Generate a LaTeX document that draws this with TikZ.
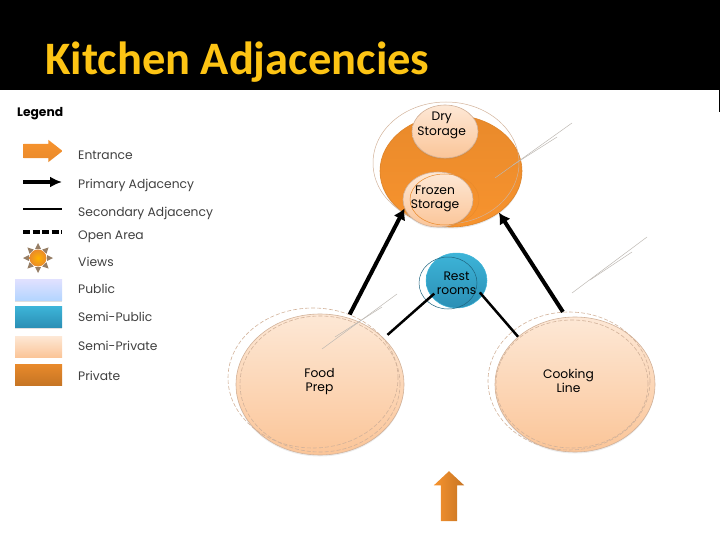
\documentclass[tikz,border=0pt]{standalone}
\usepackage{fontspec}
\setmainfont{Poppins}
\newfontfamily\titlefont{Carlito}
\usepackage{xcolor}
\usetikzlibrary{arrows.meta,shapes.geometric,shapes.arrows,shadows}
\definecolor{titleorange}{HTML}{FDC414}
\definecolor{orangetop}{HTML}{E98A2B}
\definecolor{orangebot}{HTML}{F7932E}
\definecolor{peachtop}{HTML}{FDE8D6}
\definecolor{peachbot}{HTML}{FBC598}
\definecolor{peachline}{HTML}{D2B29A}
\definecolor{bluetop}{HTML}{3DB4D8}
\definecolor{bluebot}{HTML}{2B8FB5}
\definecolor{sketchgray}{HTML}{BDB8B2}

\begin{document}
\begin{tikzpicture}[x=1pt, y=-1pt, every node/.style={align=center, font=\fontsize{12.3}{14.5}\selectfont, inner sep=0pt}]
\tikzset{
  privatezone/.style={shape=ellipse, top color=orangetop, bottom color=orangebot, draw=orangebot!90!black, line width=0.6pt, drop shadow={shadow xshift=0pt, shadow yshift=-1.5pt, opacity=0.2}},
  semizone/.style={shape=ellipse, top color=peachtop, bottom color=peachbot, draw=peachline, line width=0.6pt, drop shadow={shadow xshift=0pt, shadow yshift=-1.5pt, opacity=0.15}},
  publiczone/.style={shape=ellipse, top color=bluetop, bottom color=bluebot, draw=bluetop, line width=0.5pt},
  sketchzone/.style={shape=ellipse, draw=peachline, line width=0.5pt},
  dashzone/.style={shape=ellipse, draw=peachline, line width=0.6pt, dash pattern=on 4pt off 2pt},
  primaryflow/.style={-{Latex[length=11pt,width=13pt]}, draw=black, line width=4pt},
  secondaryflow/.style={draw=black, line width=2.5pt},
  swatch/.style={minimum width=47pt, minimum height=21pt, drop shadow={shadow xshift=0pt, shadow yshift=-1pt, opacity=0.25}},
  legendtext/.style={anchor=base west, text=black!75},
  pencil/.style={draw=sketchgray, line width=0.5pt},
  entrancearrow/.style={shape=single arrow, inner sep=0pt}
}
\useasboundingbox (0,0) rectangle (720,540);
\fill[black] (0,0) rectangle (720,90);
\fill[black] (718.8,90) rectangle (720,112);
\node[anchor=base west, text=titleorange, font=\titlefont\bfseries\fontsize{46.5}{46.5}\selectfont] (title) at (45,75) {Kitchen Adjacencies};
% legend
\node[anchor=base west, font=\bfseries\fontsize{12.3}{14}\selectfont] (legend) at (17,117) {Legend};
\node[entrancearrow, single arrow head extend=4pt, single arrow tip angle=76, top color=orangebot, bottom color=orangetop, minimum height=39pt] (keyentrance) at (38.5,151) {\rule{0pt}{14pt}};
\node[legendtext] (txtentrance) at (78,160) {Entrance};
\coordinate (primarya) at (23,182);
\coordinate (primaryb) at (62,182);
\draw[primaryflow, {-Latex[length=12pt,width=11pt]}] (primarya) -- (primaryb);
\node[legendtext] (txtprimary) at (78,188.7) {Primary Adjacency};
\coordinate (seconda) at (23,209);
\coordinate (secondb) at (62,209);
\draw[draw=black, line width=1.5pt] (seconda) -- (secondb);
\node[legendtext] (txtsecond) at (78,216.7) {Secondary Adjacency};
\coordinate (opena) at (23,232);
\coordinate (openb) at (62,232);
\draw[draw=black, line width=3pt, dash pattern=on 7pt off 2.5pt] (opena) -- (openb);
\node[legendtext] (txtopen) at (78,240) {Open Area};
% sun
\foreach \a in {0,45,...,315} {
  \fill[black!45!brown!70!white, rotate around={\a:(38,258)}] (47,255) -- (53,258) -- (47,261) -- cycle;
}
\node[shape=circle, minimum size=17pt, inner color=orange!60!yellow, outer color=orangetop] (keysun) at (38,258) {};
\node[legendtext] (txtviews) at (78,266.7) {Views};
\node[swatch, top color=blue!12, bottom color=blue!55!cyan!30] (keypublic) at (38.5,290) {};
\node[legendtext] (txtpublic) at (78,293) {Public};
\node[swatch, top color=bluetop, bottom color=bluebot] (keysemipublic) at (38.5,317) {};
\node[legendtext] (txtsemipublic) at (78,321.7) {Semi-Public};
\node[swatch, top color=peachtop, bottom color=peachbot] (keysemiprivate) at (38.5,346.5) {};
\node[legendtext] (txtsemiprivate) at (78,350) {Semi-Private};
\node[swatch, top color=orangetop, bottom color=orangetop!85!black] (keyprivate) at (38.5,374.5) {};
\node[legendtext] (txtprivate) at (78,380) {Private};
% zones
\node[privatezone, minimum width=142pt, minimum height=112pt] (storage) at (451,171) {};
\node[sketchzone, minimum width=146pt, minimum height=122pt] (storageline) at (446,163) {};
\node[semizone, minimum width=66pt, minimum height=53pt] (drystorage) at (445,131.5) {};
\node (drytxt) at (441.7,125.5) {Dry\\Storage};
\node[semizone, minimum width=70pt, minimum height=55pt] (frozen) at (438,199.5) {};
\node[sketchzone, draw=orangetop, minimum width=69pt, minimum height=51pt] (frozenline) at (444.5,199.5) {};
\node (frozentxt) at (435,199) {Frozen\\Storage};
\node[publiczone, minimum width=61pt, minimum height=55pt] (restrooms) at (456.5,280.5) {};
\node[sketchzone, draw=bluebot!70!black, minimum width=58pt, minimum height=52pt] (restline) at (448,283) {};
\node (resttxt) at (456.5,283.5) {Rest\\rooms};
\node[semizone, minimum width=168pt, minimum height=141pt] (foodprep) at (320,384.5) {};
\node[dashzone, minimum width=170pt, minimum height=140pt] (foodline) at (313,378) {};
\node[dashzone, minimum width=160pt, minimum height=136pt] (foodinner) at (320,384) {};
\node (foodtxt) at (319.5,381.5) {Food\\Prep};
\node[semizone, minimum width=160pt, minimum height=135pt] (cooking) at (575,384.5) {};
\node[dashzone, minimum width=162pt, minimum height=138pt] (cookline) at (569,381) {};
\node[dashzone, minimum width=152pt, minimum height=128pt] (cookinner) at (572,384) {};
\node (cooktxt) at (568.5,381) {Cooking\\Line};
% connectors
\draw[primaryflow] (foodline.60) -- (frozen.195);
\draw[primaryflow] (cookline.95) -- (storage.-41);
\draw[secondaryflow, shorten <=5pt, shorten >=-4pt] (foodprep.36) -- (restrooms.212);
\draw[secondaryflow, shorten >=-4pt] (cooking.140) -- (restrooms.-30);
% entrance
\node[entrancearrow, rotate=90, single arrow head extend=7pt, single arrow tip angle=94, left color=orangebot, right color=orangetop!85!black, minimum height=50pt] (entrance) at (449,500) {\rule{0pt}{16pt}};
% stray pencil strokes
\draw[pencil] (495,178) -- (572,123);
\draw[pencil] (513,165) -- (557,137);
\draw[pencil] (572,293) -- (647,237);
\draw[pencil] (590,280) -- (632,252);
\draw[pencil] (322,349) -- (397,294);
\draw[pencil] (335,337) -- (382,307);
\end{tikzpicture}
\end{document}
